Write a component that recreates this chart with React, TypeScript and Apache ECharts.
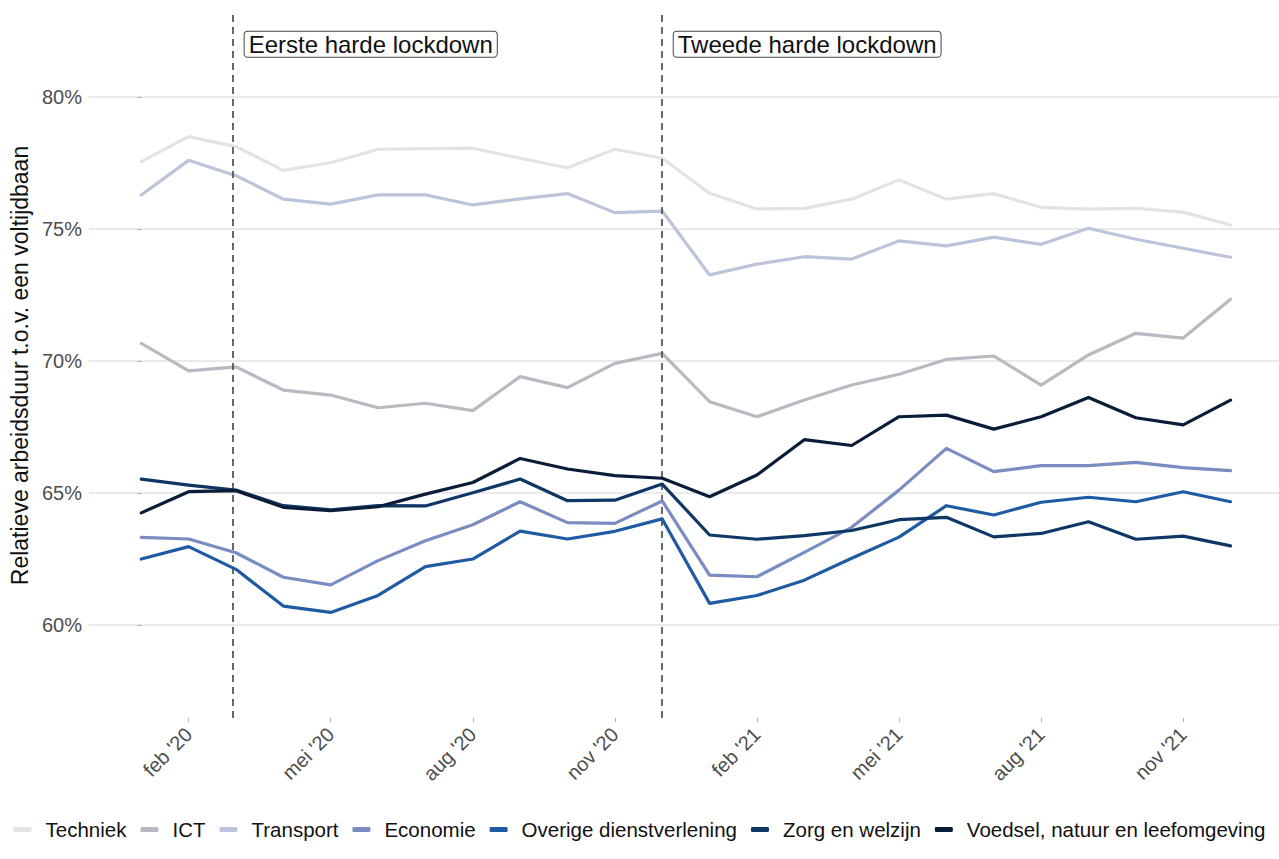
import React, { useEffect, useRef } from "react";
import * as echarts from "echarts";

// month index 0 = jan '20 ... 23 = dec '21
const monthIdx = Array.from({ length: 24 }, (_, i) => i);
const xTickIdx = [1, 4, 7, 10, 13, 16, 19, 22];
const xTickLabels = ["feb '20", "mei '20", "aug '20", "nov '20", "feb '21", "mei '21", "aug '21", "nov '21"];
const yTicks = [60, 65, 70, 75, 80];

const seriesNames = [
  "Techniek",
  "ICT",
  "Transport",
  "Economie",
  "Overige dienstverlening",
  "Zorg en welzijn",
  "Voedsel, natuur en leefomgeving",
];
const seriesColors = ["#e3e3e3", "#b9b9c1", "#bcc4dc", "#7a8cc0", "#1f5ba3", "#0f3766", "#0a1d38"];

const techniek = [77.55, 78.5, 78.12, 77.22, 77.51, 78.02, 78.04, 78.06, 77.68, 77.32, 78.02, 77.68, 76.35, 75.76, 75.78, 76.13, 76.86, 76.13, 76.34, 75.82, 75.75, 75.78, 75.64, 75.15];
const ict = [70.67, 69.63, 69.78, 68.9, 68.71, 68.23, 68.4, 68.12, 69.41, 68.99, 69.91, 70.29, 68.46, 67.89, 68.52, 69.09, 69.5, 70.06, 70.19, 69.09, 70.23, 71.05, 70.87, 72.34];
const transport = [76.29, 77.6, 77.02, 76.13, 75.94, 76.29, 76.29, 75.91, 76.14, 76.34, 75.62, 75.68, 73.26, 73.67, 73.95, 73.86, 74.55, 74.36, 74.69, 74.42, 75.03, 74.61, 74.27, 73.93];
const economie = [63.32, 63.26, 62.74, 61.81, 61.52, 62.44, 63.19, 63.8, 64.67, 63.88, 63.85, 64.7, 61.89, 61.83, 62.75, 63.7, 65.11, 66.69, 65.81, 66.04, 66.04, 66.16, 65.96, 65.85];
const overige = [62.5, 62.97, 62.11, 60.72, 60.48, 61.12, 62.21, 62.5, 63.56, 63.26, 63.55, 64.02, 60.82, 61.12, 61.7, 62.53, 63.33, 64.52, 64.17, 64.65, 64.84, 64.67, 65.05, 64.67];
const zorg = [65.53, 65.3, 65.11, 64.52, 64.36, 64.52, 64.51, 65.01, 65.53, 64.71, 64.73, 65.34, 63.41, 63.25, 63.39, 63.58, 63.99, 64.08, 63.34, 63.47, 63.91, 63.25, 63.37, 63.0];
const voedsel = [64.25, 65.05, 65.09, 64.46, 64.33, 64.48, 64.96, 65.4, 66.31, 65.91, 65.66, 65.56, 64.86, 65.68, 67.02, 66.8, 67.89, 67.95, 67.42, 67.89, 68.62, 67.85, 67.58, 68.52];
const allValues = [techniek, ict, transport, economie, overige, zorg, voedsel];

const lockdownX = [1.94, 11.0];
const lockdownLabels = ["Eerste harde lockdown", "Tweede harde lockdown"];
const lockdownLabelY = 82.0;

const FONT = "'Liberation Sans', Arial, sans-serif";

export default function App() {
  const ref = useRef<HTMLDivElement>(null);
  useEffect(() => {
    if (!ref.current) return;
    const chart = echarts.init(ref.current, undefined, { renderer: "svg" });
    const lineSeries = seriesNames.map((name, k) => ({
      name,
      type: "line",
      data: monthIdx.map((m) => [m, allValues[k][m]]),
      showSymbol: false,
      symbol: "none",
      lineStyle: { width: 3.2, color: seriesColors[k], cap: "round", join: "round" },
      itemStyle: { color: seriesColors[k] },
      silent: true,
      z: 2 + k,
    }));
    chart.setOption({
      animation: false,
      backgroundColor: "#ffffff",
      textStyle: { fontFamily: FONT },
      grid: { left: 86, right: 0, top: 13, bottom: 141, containLabel: false },
      xAxis: {
        type: "value",
        min: -1.105,
        max: 24.023,
        axisLine: { show: false },
        splitLine: { show: false },
        axisTick: {
          show: true,
          customValues: xTickIdx,
          length: 4,
          lineStyle: { color: "#aaaaaa", width: 1 },
        },
        axisLabel: {
          customValues: xTickIdx,
          rotate: 45,
          margin: 13,
          fontSize: 20,
          color: "#4d4d4d",
          fontFamily: FONT,
          formatter: (v: number) => {
            const i = xTickIdx.indexOf(Math.round(v));
            return i >= 0 ? xTickLabels[i] : "";
          },
        },
      },
      yAxis: {
        type: "value",
        min: 56.48,
        max: 83.18,
        name: "Relatieve arbeidsduur t.o.v. een voltijdbaan",
        nameLocation: "middle",
        nameGap: 52,
        nameRotate: 90,
        nameTextStyle: { fontSize: 23, color: "#111111", fontFamily: FONT },
        axisLine: { show: false },
        axisTick: {
          show: true,
          customValues: yTicks,
          length: 4,
          lineStyle: { color: "#aaaaaa", width: 1 },
        },
        splitLine: { show: true, lineStyle: { color: "#e3e3e3", width: 1.5 } },
        axisLabel: {
          customValues: yTicks,
          margin: 7,
          fontSize: 20,
          color: "#4d4d4d",
          fontFamily: FONT,
          formatter: (v: number) => `${v}%`,
        },
      },
      legend: {
        data: seriesNames,
        top: 814,
        left: "center",
        icon: "roundRect",
        itemWidth: 18,
        itemHeight: 5,
        itemGap: 14,
        selectedMode: false,
        textStyle: { fontSize: 20.5, color: "#111111", fontFamily: FONT, padding: [0, 0, 0, 9] },
      },
      series: [
        ...lineSeries,
        {
          name: "lockdowns",
          type: "line",
          data: [],
          silent: true,
          z: 20,
          markLine: {
            silent: true,
            symbol: ["none", "none"],
            label: { show: false },
            lineStyle: { type: [7, 5], color: "#444444", width: 1.6 },
            data: lockdownX.map((x) => ({ xAxis: x })),
          },
          markPoint: {
            silent: true,
            symbol: "rect",
            symbolSize: 1,
            itemStyle: { color: "rgba(0,0,0,0)" },
            label: {
              show: true,
              position: "right",
              distance: 11,
              formatter: (p: any) => p.name,
              fontSize: 24,
              color: "#111111",
              fontFamily: FONT,
              backgroundColor: "#ffffff",
              borderColor: "#444444",
              borderWidth: 1,
              borderRadius: 3,
              padding: [1, 4, 0, 4],
            },
            data: lockdownX.map((x, i) => ({ name: lockdownLabels[i], coord: [x, lockdownLabelY] })),
          },
        },
      ],
    });
    return () => chart.dispose();
  }, []);
  return <div ref={ref} style={{ position: "absolute", left: 0, top: 0, width: 1279, height: 859 }} />;
}
